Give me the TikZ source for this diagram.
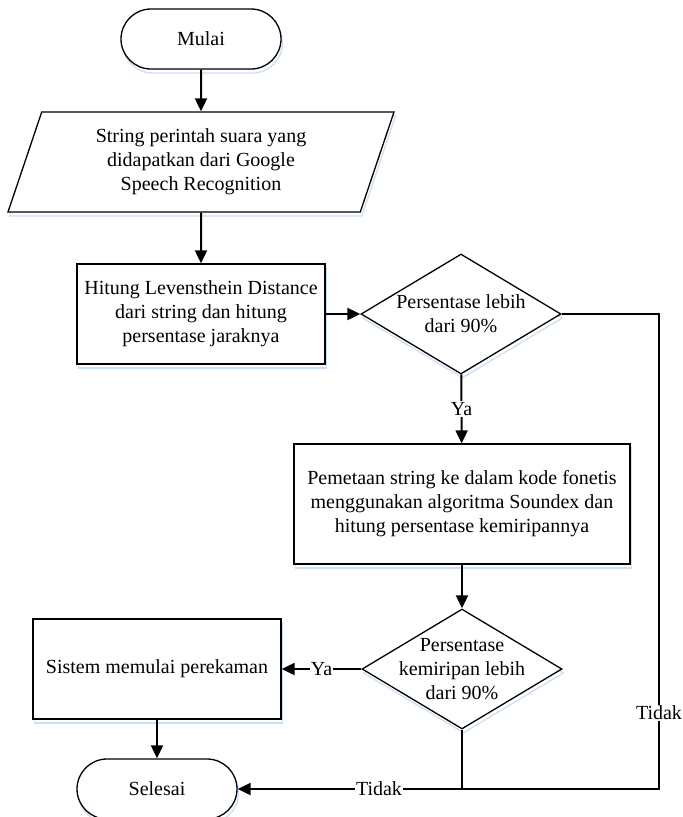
\documentclass[tikz,border=0pt]{standalone}
\usepackage{fontspec}
\setmainfont{Liberation Serif}
\usetikzlibrary{shapes.geometric,shapes.misc,arrows.meta,shadows}
\definecolor{paleblue}{RGB}{205,222,245}
\begin{document}
\begin{tikzpicture}[x=1pt,y=-1pt,
  every node/.style={font=\fontsize{20}{24}\selectfont, align=center},
  softshadow/.style={general shadow={shadow xshift=1.5pt, shadow yshift=-4pt,
      draw=paleblue, line width=1.3pt, fill=none}},
  term/.style={rounded rectangle, draw, line width=1.3pt, fill=white, softshadow,
      minimum width=160pt, minimum height=60pt, inner sep=0pt},
  io/.style={trapezium, trapezium left angle=63, trapezium right angle=117,
      trapezium stretches body, draw, line width=1.3pt, fill=white, softshadow,
      minimum width=386pt, minimum height=100pt, inner sep=0pt},
  proc/.style={rectangle, draw, line width=1.3pt, fill=white, softshadow, inner sep=0pt},
  dec/.style={diamond, aspect=1.67, draw, line width=1.3pt, fill=white, softshadow,
      minimum width=200pt, minimum height=120pt, inner sep=0pt},
  conn/.style={draw, line width=2pt, -{Triangle[length=13pt,width=12pt]}},
  wire/.style={draw, line width=2pt},
  lbl/.style={fill=white, inner sep=1pt}]

\useasboundingbox (0,0) rectangle (683,817);
\clip (0,0) rectangle (683,817);

% flowchart blocks
\node[term] (start) at (201,39) {Mulai};
\node[io] (input) at (201,162) {String perintah suara yang\\didapatkan dari Google\\Speech Recognition};
\node[proc, minimum width=248pt, minimum height=100pt] (lev) at (201,314)
  {Hitung Levensthein Distance\\dari string dan hitung\\persentase jaraknya};
\node[dec] (d1) at (461,314) {Persentase lebih\\dari 90\%};
\node[proc, minimum width=336pt, minimum height=120pt] (sdx) at (462,504)
  {Pemetaan string ke dalam kode fonetis\\menggunakan algoritma Soundex dan\\hitung persentase kemiripannya};
% second decision: fixed-size diamond, its three text lines set on top
\node[dec] (d2) at (462,669) {};
\node (d2text) at (d2.center) {Persentase\\kemiripan lebih\\dari 90\%};
\node[proc, minimum width=248pt, minimum height=100pt] (rec) at (157,669)
  {Sistem memulai perekaman};
\node[term] (end) at (157,789) {Selesai};

% routing points of the "Tidak" branches
\coordinate (rt) at (659,314);
\coordinate (rb) at (659,789);
\coordinate (jn) at (462,789);

% connectors
\draw[conn] (start) -- (input);
\draw[conn] (input) -- (lev);
\draw[conn] (lev) -- (d1);
\draw[conn] (d1) -- node[lbl]{Ya} (sdx);
\draw[conn] (sdx) -- (d2);
\draw[conn] (d2) -- node[lbl]{Ya} (rec);
\draw[conn] (rec) -- (end);
\draw[wire] (d1.east) -- (rt) -- node[lbl, pos=0.84]{Tidak} (rb) -- (jn);
\draw[wire] (d2.south) -- (jn);
\draw[conn] (jn) -- node[lbl, pos=0.37]{Tidak} (end.east);
\end{tikzpicture}
\end{document}
